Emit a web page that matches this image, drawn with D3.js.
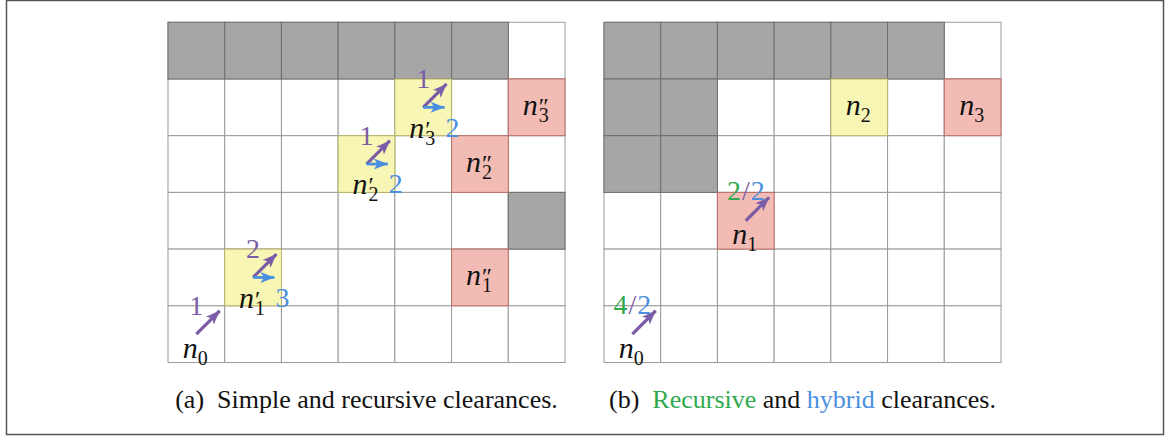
<!DOCTYPE html>
<html>
<head>
<meta charset="utf-8">
<script src="https://cdn.jsdelivr.net/npm/d3@7"></script>
<style>
  body { margin: 0; background: #fff; }
</style>
</head>
<body>
<svg></svg>
<script>
// Set up SVG canvas
const width = 1170, height = 437;
const svg = d3.select("svg")
    .attr("width", width)
    .attr("height", height)
    .attr("font-family", "'Liberation Serif', 'DejaVu Serif', 'Times New Roman', serif");

const purple = "#7b5ca6", blue = "#4a8fe0", green = "#2fa94e";

// Grid categories
const columns = [0, 1, 2, 3, 4, 5, 6];
const gridRows = [0, 1, 2, 3, 4, 5];

// Panel (a): cells as [column, row], row 0 on top
const obstaclesA = [[0,0],[1,0],[2,0],[3,0],[4,0],[5,0],[6,3]];
const yellowA = [[1,4],[3,2],[4,1]];
const pinkA = [[5,4],[5,2],[6,1]];
const diagA = [[0,5,"1"],[1,4,"2"],[3,2,"1"],[4,1,"1"]];
const horizA = [[1,4,"3"],[3,2,"2"],[4,1,"2"]];
// [column, row, primes, subscript, placement]
const nodesA = [
    [0,5,"","0","below"], [1,4,"\u2032","1","below"], [3,2,"\u2032","2","below"], [4,1,"\u2032","3","below"],
    [5,4,"\u2033","1","center"], [5,2,"\u2033","2","center"], [6,1,"\u2033","3","center"]
];

// Panel (b)
const obstaclesB = [[0,0],[1,0],[2,0],[3,0],[4,0],[5,0],[0,1],[1,1],[0,2],[1,2]];
const yellowB = [[4,1]];
const pinkB = [[6,1],[2,3]];
// recursive / hybrid clearance labels
const diagB = [[0,5,"4","2"],[2,3,"2","2"]];
const nodesB = [[0,5,"","0","below"],[2,3,"","1","below"],[4,1,"","2","center"],[6,1,"","3","center"]];

// Captions
const captionA = [["(a)\u2002Simple and recursive clearances.", "#111"]];
const captionB = [["(b)\u2002", "#111"], ["Recursive", green], [" and ", "#111"], ["hybrid", blue], [" clearances.", "#111"]];

// Outer frame
svg.append("rect")
    .attr("x", 6.5).attr("y", 0.5)
    .attr("width", 1157).attr("height", 434)
    .attr("fill", "none")
    .attr("stroke", "#555")
    .attr("stroke-width", 1.5);

// Arrow markers
const defs = svg.append("defs");
[["headPurple", purple], ["headBlue", blue]].forEach(([id, c]) => {
    defs.append("marker")
        .attr("id", id)
        .attr("markerUnits", "userSpaceOnUse")
        .attr("viewBox", "-1 -7 16 14")
        .attr("markerWidth", 16).attr("markerHeight", 14)
        .attr("refX", 14).attr("refY", 0)
        .attr("orient", "auto")
        .append("path")
        .attr("d", "M0,-5.5 L14,0 L0,5.5 L3.5,0 Z")
        .attr("fill", c);
});

function drawPanel(x0, x1, obstacles, yellow, pink) {
    const x = d3.scaleBand().domain(columns).range([x0, x1]);
    const y = d3.scaleBand().domain(gridRows).range([22.3, 362.5]);
    const g = svg.append("g");

    const all = [];
    gridRows.forEach(r => columns.forEach(c => all.push([c, r])));

    g.selectAll("rect.cell")
        .data(all)
        .enter().append("rect")
        .attr("class", "cell")
        .attr("x", d => x(d[0])).attr("y", d => y(d[1]))
        .attr("width", x.bandwidth()).attr("height", y.bandwidth())
        .attr("fill", "#fff").attr("stroke", "#9a9a9a").attr("stroke-width", 1);

    const layers = [[obstacles, "#a6a6a6", "#6e6e6e"], [yellow, "#f7f6b4", "#b7b46a"], [pink, "#f2bcb5", "#bb6d68"]];
    layers.forEach(([cells, fill, stroke]) => {
        g.selectAll(null)
            .data(cells)
            .enter().append("rect")
            .attr("x", d => x(d[0])).attr("y", d => y(d[1]))
            .attr("width", x.bandwidth()).attr("height", y.bandwidth())
            .attr("fill", fill).attr("stroke", stroke).attr("stroke-width", 1);
    });
    return { x, y, g };
}

// arrow from cell centre to a target point, shortened so the head carries the tip
function arrow(g, x1, y1, x2, y2, color, marker, w) {
    const dx = x2 - x1, dy = y2 - y1, len = Math.hypot(dx, dy);
    const k = (len - 7) / len;
    g.append("line")
        .attr("x1", x1).attr("y1", y1)
        .attr("x2", x1 + dx * k).attr("y2", y1 + dy * k)
        .attr("stroke", color).attr("stroke-width", w)
        .attr("marker-end", `url(#${marker})`);
}

function drawNodes(p, nodes) {
    nodes.forEach(([c, r, primes, sub, place]) => {
        const cx = p.x(c) + p.x.bandwidth() / 2;
        let yb;
        if (place === "center") yb = p.y(r) + p.y.bandwidth() / 2 + 8;
        else yb = p.y(r) + p.y.bandwidth() + (primes ? 2 : -5);
        const t = p.g.append("text")
            .attr("x", cx - 1).attr("y", yb)
            .attr("text-anchor", "middle")
            .attr("fill", "#111");
        t.append("tspan").attr("font-style", "italic").attr("font-size", 30).text("n");
        let subDx = 0;
        if (primes) {
            const pr = t.append("tspan").attr("font-size", 24).attr("dx", 1).attr("dy", -1).text(primes);
            subDx = -pr.node().getComputedTextLength();
        }
        t.append("tspan")
            .attr("font-size", 20)
            .attr("dx", subDx)
            .attr("dy", primes ? 8 : 7)
            .text(sub);
    });
}

// Panel (a)
const pA = drawPanel(168, 565, obstaclesA, yellowA, pinkA);
diagA.forEach(([c, r, lab]) => {
    const cx = pA.x(c) + pA.x.bandwidth() / 2, cy = pA.y(r) + pA.y.bandwidth() / 2;
    arrow(pA.g, cx, cy, pA.x(c) + pA.x.bandwidth(), pA.y(r), purple, "headPurple", 3.2);
    pA.g.append("text")
        .attr("x", cx).attr("y", pA.y(r) + 9)
        .attr("text-anchor", "middle").attr("font-size", 28)
        .attr("fill", purple).text(lab);
});
horizA.forEach(([c, r, lab]) => {
    const cx = pA.x(c) + pA.x.bandwidth() / 2, cy = pA.y(r) + pA.y.bandwidth() / 2;
    const xr = pA.x(c) + pA.x.bandwidth();
    arrow(pA.g, cx, cy, xr, cy, blue, "headBlue", 2.8);
    pA.g.append("text")
        .attr("x", xr + 1).attr("y", pA.y(r) + pA.y.bandwidth() + 1)
        .attr("text-anchor", "middle").attr("font-size", 28)
        .attr("fill", blue).text(lab);
});
drawNodes(pA, nodesA);

// Panel (b)
const pB = drawPanel(604, 1001, obstaclesB, yellowB, pinkB);
diagB.forEach(([c, r, rec, hyb]) => {
    const cx = pB.x(c) + pB.x.bandwidth() / 2, cy = pB.y(r) + pB.y.bandwidth() / 2;
    arrow(pB.g, cx, cy, pB.x(c) + pB.x.bandwidth(), pB.y(r), purple, "headPurple", 3.2);
    const t = pB.g.append("text")
        .attr("x", cx).attr("y", pB.y(r) + 8)
        .attr("text-anchor", "middle").attr("font-size", 28);
    t.append("tspan").attr("fill", green).text(rec);
    t.append("tspan").attr("fill", purple).attr("dx", 1).text("/");
    t.append("tspan").attr("fill", blue).attr("dx", 1).text(hyb);
});
drawNodes(pB, nodesB);

// Captions
[[captionA, 366.5], [captionB, 802.5]].forEach(([parts, cx]) => {
    const t = svg.append("text")
        .attr("x", cx).attr("y", 408)
        .attr("text-anchor", "middle")
        .attr("font-size", 26);
    parts.forEach(([s, c]) => t.append("tspan").attr("fill", c).text(s));
});
</script>
</body>
</html>
